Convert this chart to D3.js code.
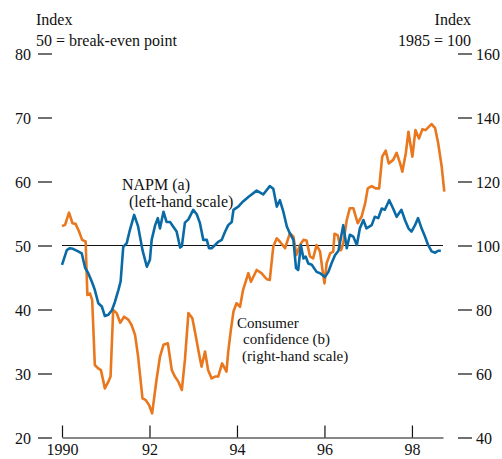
<!DOCTYPE html>
<html><head><meta charset="utf-8">
<script src="https://cdn.jsdelivr.net/npm/d3@7"></script>
<style>
body{margin:0;background:#fff;}
text{font-family:"Liberation Serif","Times New Roman",serif;fill:#111;}
</style></head>
<body>
<svg id="c" width="502" height="459"></svg>
<script>
const napmDates = [1990.00,1990.11,1990.18,1990.25,1990.37,1990.45,1990.53,1990.60,1990.68,1990.75,1990.83,1990.91,1990.98,1991.06,1991.14,1991.21,1991.29,1991.34,1991.40,1991.48,1991.55,1991.65,1991.74,1991.84,1991.94,1992.01,1992.05,1992.13,1992.19,1992.24,1992.32,1992.39,1992.47,1992.54,1992.62,1992.70,1992.74,1992.81,1992.89,1993.00,1993.08,1993.15,1993.23,1993.31,1993.36,1993.42,1993.50,1993.57,1993.65,1993.73,1993.80,1993.88,1993.92,1994.03,1994.14,1994.26,1994.45,1994.60,1994.75,1994.83,1994.91,1994.98,1995.06,1995.14,1995.21,1995.29,1995.35,1995.40,1995.46,1995.52,1995.57,1995.63,1995.71,1995.82,1995.90,1996.01,1996.09,1996.16,1996.24,1996.32,1996.43,1996.51,1996.58,1996.66,1996.74,1996.81,1996.89,1996.96,1997.08,1997.15,1997.23,1997.31,1997.38,1997.48,1997.57,1997.65,1997.76,1997.84,1997.92,1997.99,1998.07,1998.14,1998.22,1998.30,1998.37,1998.45,1998.53,1998.60,1998.66];
const napmValues = [46.9,49.2,49.5,49.4,49.0,48.7,46.4,45.6,44.3,43.0,40.9,40.4,38.9,39.1,39.8,41.1,43.0,44.3,49.7,50.3,52.3,54.7,52.9,49.2,46.6,47.7,50.8,53.1,54.2,52.6,55.2,53.6,53.6,52.9,52.1,49.6,49.8,53.5,54.0,55.5,54.8,53.5,50.8,50.8,49.5,49.5,50.0,50.5,50.8,52.1,53.1,53.6,55.5,56.0,56.8,57.5,58.5,57.9,59.2,58.8,56.0,57.0,55.2,52.9,51.8,50.8,46.4,46.1,50.0,47.9,48.2,47.1,46.9,45.8,45.6,45.0,45.8,47.1,48.4,49.1,53.1,49.5,51.6,51.3,50.0,52.6,53.9,52.6,53.1,54.4,54.2,55.7,55.5,57.0,55.7,54.4,55.5,53.9,52.6,52.1,53.1,54.2,52.6,51.3,50.0,49.0,48.8,49.1,49.1];

const confDates = [1990.00,1990.07,1990.16,1990.24,1990.31,1990.39,1990.46,1990.54,1990.58,1990.64,1990.69,1990.75,1990.82,1990.89,1990.98,1991.06,1991.11,1991.17,1991.25,1991.33,1991.42,1991.52,1991.59,1991.67,1991.74,1991.84,1991.91,1991.99,1992.06,1992.16,1992.24,1992.32,1992.42,1992.51,1992.58,1992.66,1992.74,1992.81,1992.89,1992.98,1993.06,1993.13,1993.19,1993.27,1993.34,1993.42,1993.50,1993.57,1993.66,1993.76,1993.80,1993.86,1993.92,1993.99,1994.07,1994.14,1994.26,1994.32,1994.45,1994.56,1994.68,1994.75,1994.83,1994.91,1994.98,1995.10,1995.21,1995.29,1995.36,1995.44,1995.52,1995.59,1995.67,1995.74,1995.82,1995.90,1995.95,1996.00,1996.05,1996.13,1996.20,1996.23,1996.30,1996.38,1996.43,1996.51,1996.58,1996.66,1996.76,1996.85,1996.93,1996.99,1997.08,1997.17,1997.25,1997.32,1997.40,1997.47,1997.57,1997.65,1997.73,1997.78,1997.86,1997.92,1998.01,1998.08,1998.16,1998.24,1998.31,1998.39,1998.45,1998.53,1998.60,1998.68,1998.74];
const confValues = [105.9,106.3,110.1,106.8,106.6,104.2,101.6,101.1,84.4,84.9,82.8,62.5,61.5,60.9,55.2,57.3,58.9,79.7,78.7,75.7,77.6,76.6,75.0,71.9,65.1,52.1,51.6,50.0,47.4,57.8,65.1,68.8,69.3,60.9,58.9,57.3,54.7,64.1,78.7,77.1,71.4,66.2,62.0,66.7,60.9,58.3,58.9,58.9,63.0,60.4,66.7,73.4,79.2,81.8,80.7,86.0,91.2,88.5,92.2,91.2,89.3,89.1,99.5,102.1,101.1,99.0,103.7,102.6,96.9,100.0,101.6,101.4,96.4,95.8,100.0,97.9,92.7,88.0,94.3,97.4,97.9,103.5,103.1,98.4,100.5,107.8,111.5,111.5,106.8,108.9,113.0,117.7,118.4,117.7,117.7,127.6,129.5,125.5,126.6,128.8,125.5,122.9,128.7,135.4,127.6,135.9,133.3,136.2,135.9,137.0,137.8,136.5,131.8,124.5,116.7];

const xTicks = [1990,1992,1994,1996,1998];
const xTickLabels = ["1990","92","94","96","98"];
const leftTicks = [20,30,40,50,60,70,80];
const rightTicks = [40,60,80,100,120,140,160];

const svg = d3.select("#c");
const x = d3.scaleLinear().domain([1990, 1998.71]).range([62, 443]);
const yL = d3.scaleLinear().domain([20, 80]).range([437, 53]);
const yR = d3.scaleLinear().domain([40, 160]).range([437, 53]);
const fs = "16px";

// left axis
const gl = svg.append("g").attr("transform","translate(52,0.5)")
  .call(d3.axisLeft(yL).tickValues(leftTicks).tickSize(14).tickPadding(7));
gl.select(".domain").remove();
gl.selectAll("line").attr("stroke","#111").attr("stroke-width",1.2);
gl.selectAll("text").style("font-size",fs).style("font-family","Liberation Serif").attr("fill","#111").attr("dy","0.4em");

// right axis
const gr = svg.append("g").attr("transform","translate(458,0.5)")
  .call(d3.axisRight(yR).tickValues(rightTicks).tickSize(14).tickPadding(4));
gr.select(".domain").remove();
gr.selectAll("line").attr("stroke","#111").attr("stroke-width",1.2);
gr.selectAll("text").style("font-size",fs).style("font-family","Liberation Serif").attr("fill","#111").attr("dy","0.4em");

// bottom axis
const gb = svg.append("g").attr("transform","translate(0,437.5)")
  .call(d3.axisBottom(x).tickValues(xTicks).tickFormat((d,i)=>xTickLabels[i]).tickSizeInner(-12).tickSizeOuter(0).tickPadding(6));
gb.select(".domain").attr("stroke","#111").attr("stroke-width",1.2);
gb.selectAll("line").attr("stroke","#111").attr("stroke-width",1.2);
gb.selectAll("text").style("font-size",fs).style("font-family","Liberation Serif").attr("fill","#111");

// break-even line
svg.append("line").attr("x1",x(1990)).attr("x2",x(1998.71))
  .attr("y1",yL(50)+0.5).attr("y2",yL(50)+0.5).attr("stroke","#111").attr("stroke-width",1);

const napm = napmDates.map((d,i)=>[d,napmValues[i]]);
const conf = confDates.map((d,i)=>[d,confValues[i]]);

svg.append("path").datum(conf)
  .attr("d", d3.line().x(d=>x(d[0])).y(d=>yR(d[1])))
  .attr("fill","none").attr("stroke","#e8771e").attr("stroke-width",2.6).attr("stroke-linejoin","round");
svg.append("path").datum(napm)
  .attr("d", d3.line().x(d=>x(d[0])).y(d=>yL(d[1])))
  .attr("fill","none").attr("stroke","#0a6aa6").attr("stroke-width",2.6).attr("stroke-linejoin","round");

// multi-line labels as single text elements with tspans
function block(lines, anchor, size){
  const t = svg.append("text").attr("text-anchor",anchor||"start").style("font-size",size||fs);
  lines.forEach(l=>t.append("tspan").attr("x",l[1]).attr("y",l[2]).text(l[0]));
}
block([["Index",36,25],["50 = break-even point",36,46]]);
block([["Index",471,25],["1985 = 100",471,46]],"end");
block([["NAPM (a)",122,189.5],["(left-hand scale)",129,207]]);
block([["Consumer",237,327.5],["confidence (b)",243,344.3],["(right-hand scale)",242,361.1]],"start","15px");
</script>
</body></html>
